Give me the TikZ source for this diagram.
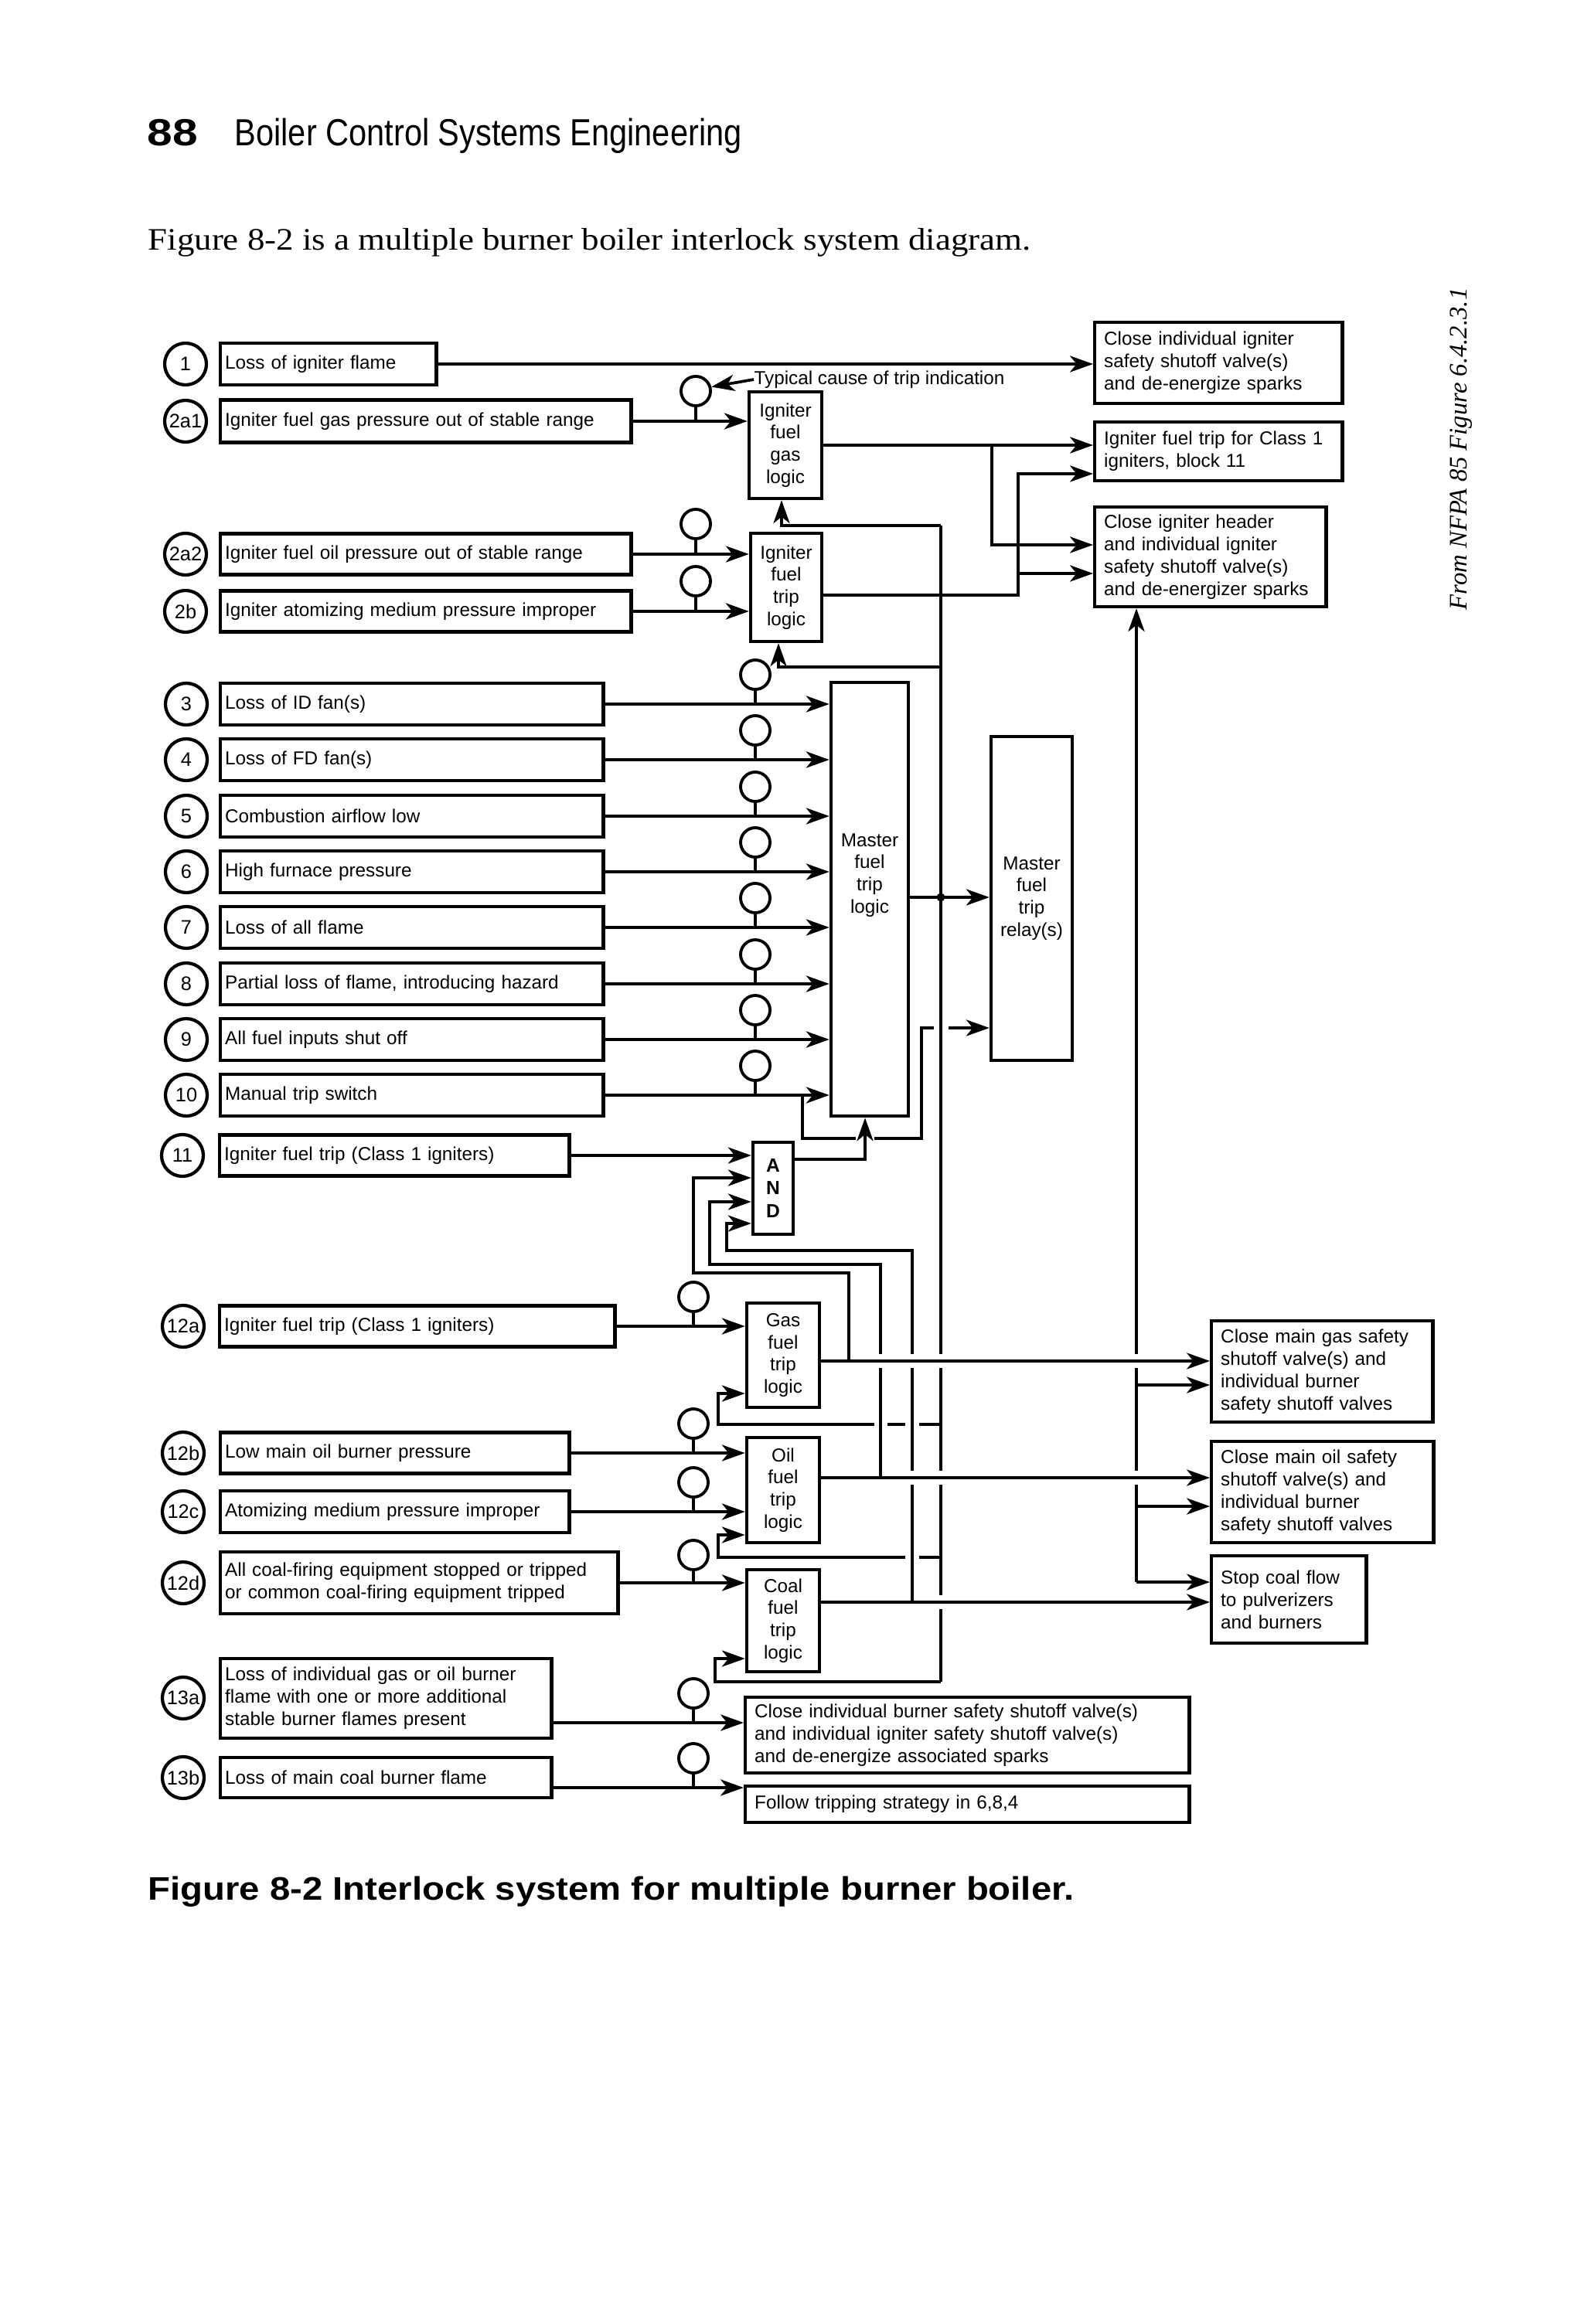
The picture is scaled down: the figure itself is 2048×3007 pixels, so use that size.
\documentclass[tikz,border=0pt]{standalone}
\usepackage{graphicx}
\usepackage{fontspec}
\setmainfont{Liberation Sans}
\newfontfamily\serifface{Liberation Serif}
\usetikzlibrary{arrows.meta}
\newcommand\boxfont{\fontsize{6.9pt}{8.2pt}\selectfont}
\newcommand\numfont{\fontsize{7.2pt}{8pt}\selectfont}
\begin{document}
\begin{tikzpicture}[x=0.01cm, y=-0.01cm,
  ln/.style={line width=1.05pt},
  arr/.style={line width=1.05pt, -{Stealth[length=8.5pt,width=6pt,inset=2.4pt]}},
  eraser/.style={draw=white, line width=4pt},
  num/.style={circle, draw, line width=1.2pt, minimum size=0.54cm, inner sep=0pt, font=\numfont},
  ind/.style={circle, draw, line width=1.1pt, minimum size=0.38cm, inner sep=0pt},
  lbox/.style={draw, line width=1.25pt, anchor=west, inner xsep=0.06cm, inner ysep=0pt, align=left, font=\boxfont},
  rbox/.style={draw, line width=1.25pt, anchor=west, inner xsep=0.12cm, inner ysep=0pt, align=left, font=\boxfont},
  logic/.style={draw, line width=1.25pt, inner sep=0pt, align=center, font=\boxfont},
  plain/.style={inner sep=0pt}
]
\path[use as bounding box] (0,0) rectangle (2048,3007);

% ---------- page texts ----------
\node[plain, anchor=base west] (pgno) at (190,189) {\fontsize{13.9pt}{14pt}\selectfont\bfseries\scalebox{1.2}[1]{88}};
\node[plain, anchor=base west] (runhead) at (303,189) {\fontsize{13.9pt}{14pt}\selectfont\scalebox{0.85}[1]{Boiler Control Systems Engineering}};
\node[plain, anchor=base west] (intro) at (191,324) {\serifface\fontsize{11.5pt}{13pt}\selectfont\scalebox{1.11}[1]{Figure 8-2 is a multiple burner boiler interlock system diagram.}};
\node[plain, anchor=base west] (caption) at (191,2458) {\fontsize{12pt}{14pt}\selectfont\bfseries\scalebox{1.12}[1]{Figure 8-2 Interlock system for multiple burner boiler.}};
\node[plain, anchor=base west, rotate=90] (source) at (1897,790) {\serifface\itshape\fontsize{9.3pt}{11pt}\selectfont From NFPA 85 Figure 6.4.2.3.1};

% ---------- numbered circles ----------
\node[num] (n1) at (240,471) {1};
\node[num] (n2a1) at (240,545) {2a1};
\node[num] (n2a2) at (240,717) {2a2};
\node[num] (n2b) at (240,791) {2b};
\node[num] (n3) at (241,911) {3};
\node[num] (n4) at (241,983) {4};
\node[num] (n5) at (241,1056) {5};
\node[num] (n6) at (241,1128) {6};
\node[num] (n7) at (241,1200) {7};
\node[num] (n8) at (241,1273) {8};
\node[num] (n9) at (241,1345) {9};
\node[num] (n10) at (241,1417) {10};
\node[num] (n11) at (236,1495) {11};
\node[num] (n12a) at (237,1716) {12a};
\node[num] (n12b) at (237,1880) {12b};
\node[num] (n12c) at (237,1956) {12c};
\node[num] (n12d) at (237,2048) {12d};
\node[num] (n13a) at (237,2197) {13a};
\node[num] (n13b) at (237,2300) {13b};

% ---------- cause boxes ----------
\node[lbox, text width=2.67cm, minimum height=0.54cm] (b1) at (283,471) {Loss of igniter flame};
\node[lbox, text width=5.19cm, minimum height=0.55cm] (b2a1) at (283,545) {Igniter fuel gas pressure out of stable range};
\node[lbox, text width=5.19cm, minimum height=0.53cm] (b2a2) at (283,717) {Igniter fuel oil pressure out of stable range};
\node[lbox, text width=5.19cm, minimum height=0.53cm] (b2b) at (283,791) {Igniter atomizing medium pressure improper};
\node[lbox, text width=4.83cm, minimum height=0.54cm] (b3) at (283,911) {Loss of ID fan(s)};
\node[lbox, text width=4.83cm, minimum height=0.54cm] (b4) at (283,983) {Loss of FD fan(s)};
\node[lbox, text width=4.83cm, minimum height=0.54cm] (b5) at (283,1056) {Combustion airflow low};
\node[lbox, text width=4.83cm, minimum height=0.54cm] (b6) at (283,1128) {High furnace pressure};
\node[lbox, text width=4.83cm, minimum height=0.54cm] (b7) at (283,1200) {Loss of all flame};
\node[lbox, text width=4.83cm, minimum height=0.54cm] (b8) at (283,1273) {Partial loss of flame, introducing hazard};
\node[lbox, text width=4.83cm, minimum height=0.54cm] (b9) at (283,1345) {All fuel inputs shut off};
\node[lbox, text width=4.83cm, minimum height=0.54cm] (b10) at (283,1417) {Manual trip switch};
\node[lbox, text width=4.40cm, minimum height=0.53cm] (b11) at (282,1495) {Igniter fuel trip (Class 1 igniters)};
\node[lbox, text width=4.99cm, minimum height=0.53cm] (b12a) at (282,1716) {Igniter fuel trip (Class 1 igniters)};
\node[lbox, text width=4.39cm, minimum height=0.53cm] (b12b) at (283,1880) {Low main oil burner pressure};
\node[lbox, text width=4.39cm, minimum height=0.54cm] (b12c) at (283,1956) {Atomizing medium pressure improper};
\node[lbox, text width=5.02cm, minimum height=0.80cm] (b12d) at (283,2048) {All coal-firing equipment stopped or tripped\\or common coal-firing equipment tripped};
\node[lbox, text width=4.16cm, minimum height=1.03cm] (b13a) at (283,2197.5) {Loss of individual gas or oil burner\\flame with one or more additional\\stable burner flames present};
\node[lbox, text width=4.16cm, minimum height=0.52cm] (b13b) at (283,2300) {Loss of main coal burner flame};

% ---------- logic blocks ----------
\node[logic, minimum width=0.94cm, minimum height=1.38cm] (igl) at (1016,576) {Igniter\\fuel\\gas\\logic};
\node[logic, minimum width=0.92cm, minimum height=1.40cm] (itl) at (1017,760) {Igniter\\fuel\\trip\\logic};
\node[logic, minimum width=1.00cm, minimum height=5.61cm, label={[align=center, font=\boxfont, yshift=0.31cm]center:Master\\fuel\\trip\\logic}] (mftl) at (1125,1163.5) {};
\node[logic, minimum width=1.05cm, minimum height=4.19cm] (mftr) at (1334.5,1162.5) {Master\\fuel\\trip\\relay(s)};
\node[logic, minimum width=0.52cm, minimum height=1.19cm, font=\fontsize{7pt}{8.3pt}\selectfont\bfseries] (andg) at (1000,1537.5) {A\\N\\D};
\node[logic, minimum width=0.94cm, minimum height=1.35cm] (gas) at (1013,1753.5) {Gas\\fuel\\trip\\logic};
\node[logic, minimum width=0.94cm, minimum height=1.36cm] (oil) at (1013,1928) {Oil\\fuel\\trip\\logic};
\node[logic, minimum width=0.94cm, minimum height=1.32cm] (coal) at (1013,2097) {Coal\\fuel\\trip\\logic};

% ---------- action boxes ----------
\node[rbox, text width=2.96cm, minimum height=1.05cm] (r1) at (1414,469.5) {Close individual igniter\\safety shutoff valve(s)\\and de-energize sparks};
\node[rbox, text width=2.96cm, minimum height=0.76cm] (r2) at (1414,584) {Igniter fuel trip for Class 1\\igniters, block 11};
\node[rbox, text width=2.75cm, minimum height=1.29cm] (r3) at (1414,720.5) {Close igniter header\\and individual igniter\\safety shutoff valve(s)\\and de-energizer sparks};
\node[rbox, text width=2.62cm, minimum height=1.31cm] (r4) at (1565,1774.5) {Close main gas safety\\shutoff valve(s) and\\individual burner\\safety shutoff valves};
\node[rbox, text width=2.63cm, minimum height=1.31cm] (r5) at (1565,1930.5) {Close main oil safety\\shutoff valve(s) and\\individual burner\\safety shutoff valves};
\node[rbox, text width=1.76cm, minimum height=1.13cm] (r6) at (1565,2069.5) {Stop coal flow\\to pulverizers\\and burners};
\node[rbox, text width=5.50cm, minimum height=0.98cm] (cib) at (962,2245) {Close individual burner safety shutoff valve(s)\\and individual igniter safety shutoff valve(s)\\and de-energize associated sparks};
\node[rbox, text width=5.50cm, minimum height=0.47cm] (ftb) at (962,2334.5) {Follow tripping strategy in 6,8,4};

% ---------- indicator lamps ----------
\node[ind] (i2a1) at (900,506) {};
\node[ind] (i2a2) at (900,678) {};
\node[ind] (i2b) at (900,752) {};
\node[ind] (i3) at (977,873) {};
\node[ind] (i4) at (977,945) {};
\node[ind] (i5) at (977,1018) {};
\node[ind] (i6) at (977,1090) {};
\node[ind] (i7) at (977,1162) {};
\node[ind] (i8) at (977,1235) {};
\node[ind] (i9) at (977,1307) {};
\node[ind] (i10) at (977,1379) {};
\node[ind] (i12a) at (897,1678) {};
\node[ind] (i12b) at (897,1842) {};
\node[ind] (i12c) at (897,1918) {};
\node[ind] (i12d) at (897,2012) {};
\node[ind] (i13a) at (897,2191) {};
\node[ind] (i13b) at (897,2275) {};
\node[plain, anchor=west, font=\boxfont] (typ) at (975,491) {Typical cause of trip indication};
\draw[arr] (typ.west) -- (i2a1.15);

% ---------- igniter section ----------
\draw[arr] (b1.east) -- (b1.east -| r1.west);
\draw[arr] (b2a1.east) -- (b2a1.east -| igl.west);
\draw[ln] (i2a1.south) -- (i2a1.south |- b2a1.east);
\draw[arr] (b2a2.east) -- (b2a2.east -| itl.west);
\draw[ln] (i2a2.south) -- (i2a2.south |- b2a2.east);
\draw[arr] (b2b.east) -- (b2b.east -| itl.west);
\draw[ln] (i2b.south) -- (i2b.south |- b2b.east);
\draw[arr] (igl.east) -- (igl.east -| r2.west);
\draw[arr] (1283,576) |- (r3.west |- 0,705);
\draw[arr] (itl.east |- 0,770) -| (1317,613) -- (r2.west |- 0,613);
\draw[arr] (1317,742) -- (r3.west |- 0,742);

% ---------- master fuel trip inputs ----------
\foreach \k in {3,...,10} {
  \draw[arr] (b\k.east) -- (b\k.east -| mftl.west);
  \draw[ln] (i\k.south) -- (i\k.south |- b\k.east);
}

% ---------- buses (verticals) ----------
\draw[ln] (1217,680) -- (1217,2176);
\draw[arr] (1217,680) -| ([xshift=-0.05cm]igl.south);
\draw[arr] (1217,863) -| ([xshift=-0.1cm]itl.south);
\draw[arr] (1217,2176) -| (925,2146) -- (coal.west |- 0,2146);
\draw[arr] (1470,2047) -- (1470,0 |- r3.south);
\draw[arr] (1098,1761) |- (897,1647) |- (andg.west |- 0,1524);
\draw[arr] (1139,1912) |- (918,1636) |- (andg.west |- 0,1555);
\draw[arr] (1180,2073) |- (940,1618) |- (andg.west |- 0,1583);

% crossing gaps in the verticals
\draw[eraser] (1139,1752) -- (1139,1770);
\draw[eraser] (1180,1752) -- (1180,1770);
\draw[eraser] (1217,1752) -- (1217,1770);
\draw[eraser] (1470,1752) -- (1470,1770);
\draw[eraser] (1180,1903) -- (1180,1921);
\draw[eraser] (1217,1903) -- (1217,1921);
\draw[eraser] (1470,1903) -- (1470,1921);
\draw[eraser] (1217,2064) -- (1217,2082);

% ---------- fuel trip outputs ----------
\draw[arr] (gas.east |- 0,1761) -- (r4.west |- 0,1761);
\draw[arr] (oil.east |- 0,1912) -- (r5.west |- 0,1912);
\draw[arr] (coal.east |- 0,2073) -- (r6.west |- 0,2073);
\draw[arr] (1470,1792) -- (r4.west |- 0,1792);
\draw[arr] (1470,1949) -- (r5.west |- 0,1949);
\draw[arr] (1470,2047) -- (r6.west |- 0,2047);

% reset feedback into the fuel logic blocks
\draw[arr] (1131,1843) -| (929,1803) -- (gas.west |- 0,1803);
\draw[ln] (1148,1843) -- (1171,1843);
\draw[ln] (1189,1843) -- (1217,1843);
\draw[arr] (1171,2015) -| (929,1986) -- (oil.west |- 0,1986);
\draw[ln] (1189,2015) -- (1217,2015);

% ---------- AND and master trip ----------
\draw[arr] (b11.east) -- (b11.east -| andg.west);
\draw[arr] (andg.east |- 0,1500) -| ([xshift=-0.06cm]mftl.south);
\draw[arr] (mftl.east |- 0,1161) -- (mftr.west |- 0,1161);
\fill (1217,1161) circle (0.055cm);
\draw[ln] (1038,1417) |- (1107,1473);
\draw[ln] (1131,1473) -| (1192,1330) -- (1208,1330);
\draw[arr] (1227,1330) -- (mftr.west |- 0,1330);

% ---------- main fuel inputs ----------
\draw[arr] (b12a.east) -- (b12a.east -| gas.west);
\draw[ln] (i12a.south) -- (i12a.south |- b12a.east);
\draw[arr] (b12b.east) -- (b12b.east -| oil.west);
\draw[ln] (i12b.south) -- (i12b.south |- b12b.east);
\draw[arr] (b12c.east) -- (b12c.east -| oil.west);
\draw[ln] (i12c.south) -- (i12c.south |- b12c.east);
\draw[arr] (b12d.east) -- (b12d.east -| coal.west);
\draw[ln] (i12d.south) -- (i12d.south |- b12d.east);
\draw[arr] (b13a.east |- 0,2229) -- (cib.west |- 0,2229);
\draw[ln] (i13a.south) -- (i13a.south |- 0,2229);
\draw[arr] (b13b.east |- 0,2313) -- (ftb.west |- 0,2313);
\draw[ln] (i13b.south) -- (i13b.south |- 0,2313);
\end{tikzpicture}
\end{document}
